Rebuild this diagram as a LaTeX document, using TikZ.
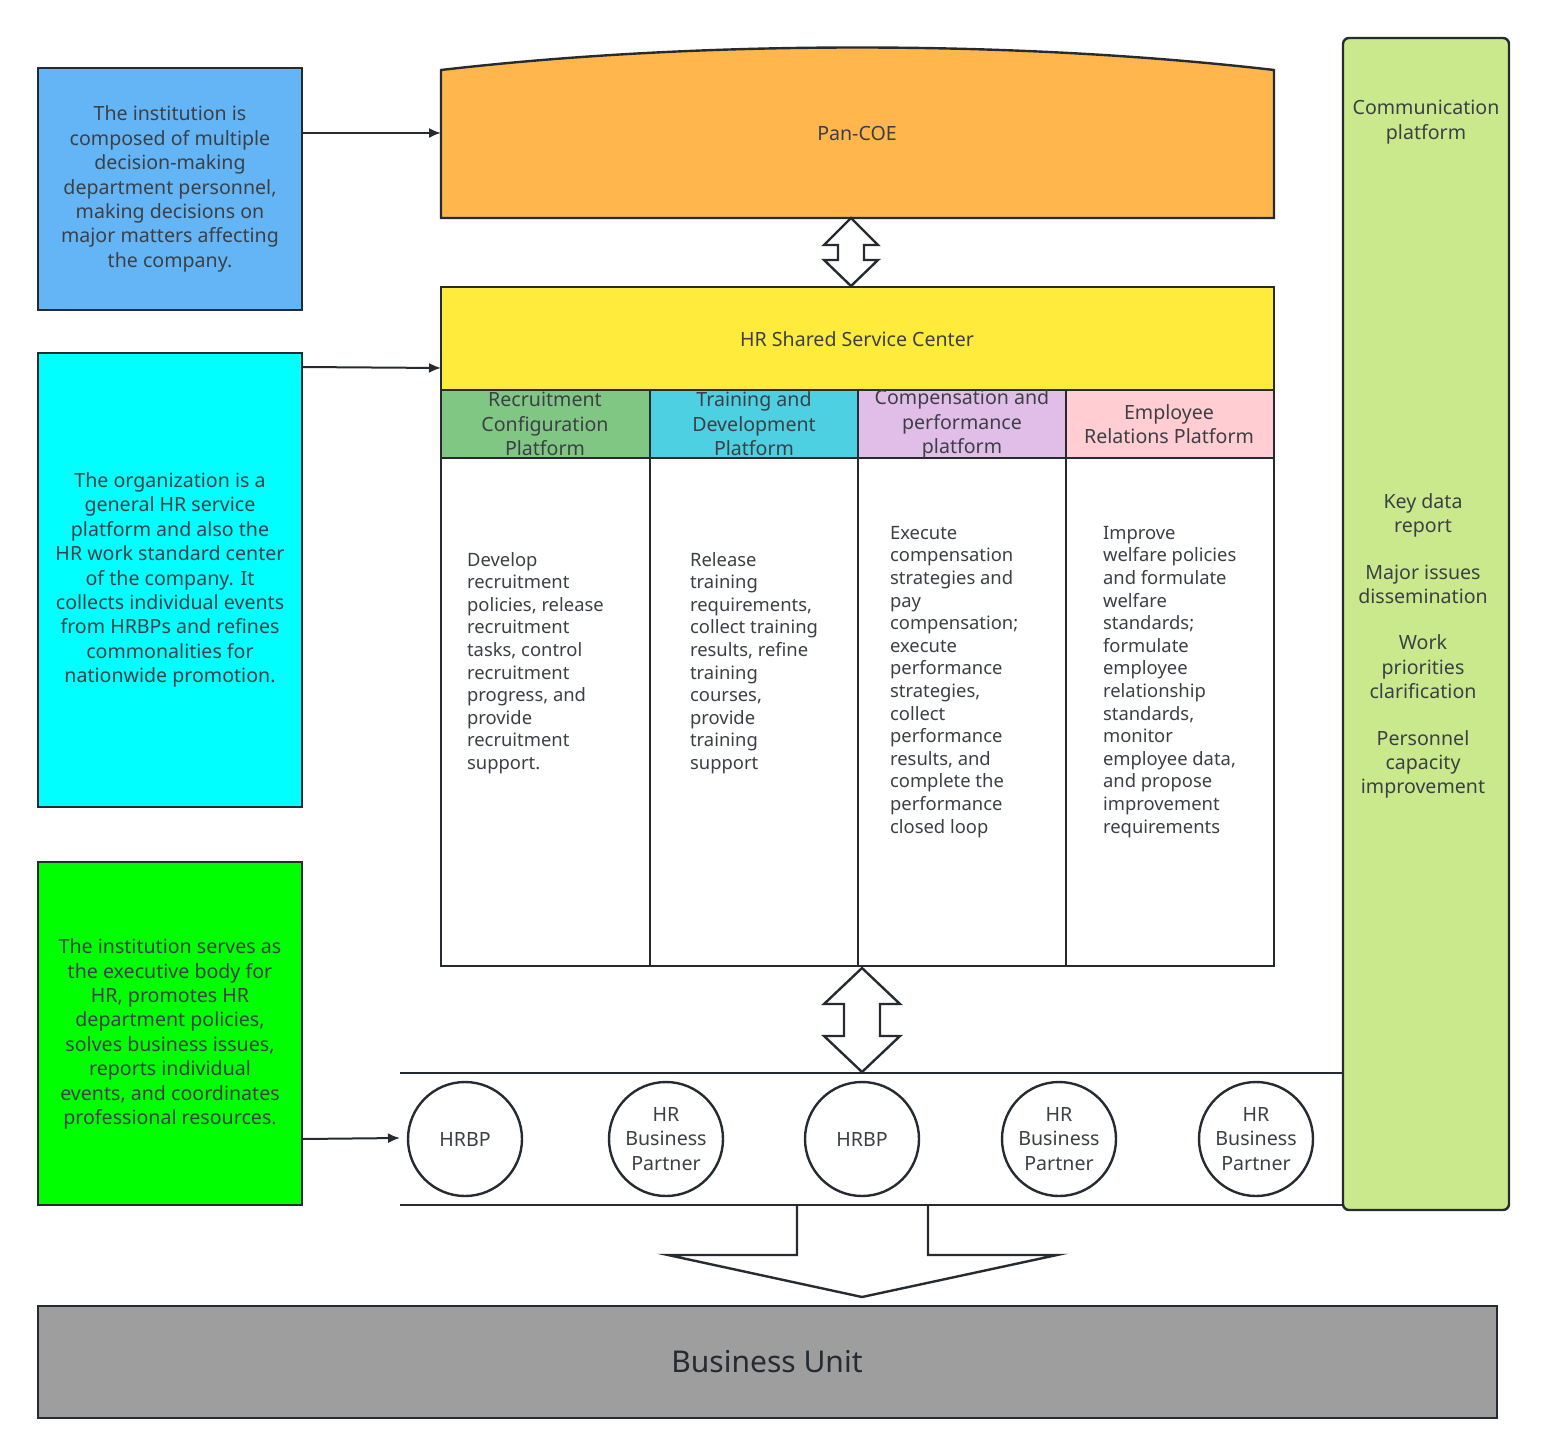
\documentclass[tikz,border=0pt]{standalone}
\usepackage{fontspec}
\setmainfont{Noto Sans}
\usetikzlibrary{arrows.meta}
\definecolor{cblue}{HTML}{64B5F6}
\definecolor{ccyan}{HTML}{00FFFF}
\definecolor{cgreen}{HTML}{00FF00}
\definecolor{corange}{HTML}{FFB74D}
\definecolor{cyel}{HTML}{FFEB3B}
\definecolor{h1}{HTML}{81C784}
\definecolor{h2}{HTML}{4DD0E1}
\definecolor{h3}{HTML}{E1BEE7}
\definecolor{h4}{HTML}{FFCDD2}
\definecolor{cgray}{HTML}{9E9E9E}
\definecolor{clime}{HTML}{C9E98C}
\definecolor{ln}{HTML}{262B31}
\begin{document}
\begin{tikzpicture}[x=0.5pt,y=-0.5pt,
 box/.style={draw=ln,line width=1.2pt},
 txt/.style={font=\fontsize{9.8}{12.2}\selectfont,text=ln!90,align=center},
 body/.style={font=\fontsize{9.2}{11.3}\selectfont,text=ln!90,align=left,anchor=north west},
 arr/.style={draw=ln,line width=1pt,-{Latex[length=6pt,width=5pt]}},
 circ/.style={circle,draw=ln,line width=1.2pt,fill=white,minimum size=57pt,inner sep=0pt,txt}]
\useasboundingbox (0,0) rectangle (1546,1455);
% left boxes
\draw[box,fill=cblue] (38,68) rectangle (302,310);
\node[txt] (t1) at (170,189) {The institution is\\composed of multiple\\decision-making\\department personnel,\\making decisions on\\major matters affecting\\the company.};
\draw[box,fill=ccyan] (38,353) rectangle (302,807);
\node[txt] (t2) at (170,580) {The organization is a\\general HR service\\platform and also the\\HR work standard center\\of the company. It\\collects individual events\\from HRBPs and refines\\commonalities for\\nationwide promotion.};
\draw[box,fill=cgreen] (38,862) rectangle (302,1205);
\node[txt] (t3) at (170,1034) {The institution serves as\\the executive body for\\HR, promotes HR\\department policies,\\solves business issues,\\reports individual\\events, and coordinates\\professional resources.};
% Pan-COE
\draw[box,fill=corange] (441,218) -- (441,70) .. controls (700,40) and (1015,40) .. (1274,70) -- (1274,218) -- cycle;
\node[txt] (pan) at (857,133) {Pan-COE};
% double arrow 1
\draw[box,fill=white] (851,218) -- (878,245) -- (864,245) -- (864,260) -- (878,260) -- (851,286) -- (824,260) -- (838,260) -- (838,245) -- (824,245) -- cycle;
% HR shared
\draw[box,fill=cyel] (441,287) rectangle (1274,390);
\node[txt] (hr) at (857,339) {HR Shared Service Center};
% columns
\foreach \a/\b/\c in {441/650/h1,650/858/h2,858/1066/h3,1066/1274/h4}{
 \draw[box,fill=\c] (\a,390) rectangle (\b,458);
 \draw[box,fill=white] (\a,458) rectangle (\b,966);}
\node[txt] (c1) at (545,424) {Recruitment\\Configuration\\Platform};
\node[txt] (c2) at (754,424) {Training and\\Development\\Platform};
\node[txt] (c3) at (962,424) {Compensation and\\performance\\platform};
\node[txt] (c4) at (1169,424) {Employee\\Relations Platform};
\node[body] (b1) at (460,545) {Develop\\recruitment\\policies, release\\recruitment\\tasks, control\\recruitment\\progress, and\\provide\\recruitment\\support.};
\node[body] (b2) at (683,545) {Release\\training\\requirements,\\collect training\\results, refine\\training\\courses,\\provide\\training\\support};
\node[body] (b3) at (883,519) {Execute\\compensation\\strategies and\\pay\\compensation;\\execute\\performance\\strategies,\\collect\\performance\\results, and\\complete the\\performance\\closed loop};
\node[body] (b4) at (1096,519) {Improve\\welfare policies\\and formulate\\welfare\\standards;\\formulate\\employee\\relationship\\standards,\\monitor\\employee data,\\and propose\\improvement\\requirements};
% double arrow 2
\draw[box,fill=white] (862,968) -- (900,1004) -- (880,1004) -- (880,1036) -- (900,1036) -- (862,1072) -- (824,1036) -- (844,1036) -- (844,1004) -- (824,1004) -- cycle;
% band
\draw[line width=1.2pt,draw=ln] (400,1073) -- (1345,1073);
\draw[line width=1.2pt,draw=ln] (400,1205) -- (1345,1205);
\node[circ] (p1) at (465,1139) {HRBP};
\node[circ,align=center] (p2) at (666,1139) {HR\\Business\\Partner};
\node[circ] (p3) at (862,1139) {HRBP};
\node[circ,align=center] (p4) at (1059,1139) {HR\\Business\\Partner};
\node[circ,align=center] (p5) at (1256,1139) {HR\\Business\\Partner};
% big down arrow
\draw[box,fill=white] (797,1206) -- (797,1255) -- (668,1255) -- (862,1297) -- (1057,1255) -- (928,1255) -- (928,1206);
% business unit
\draw[box,fill=cgray] (38,1306) rectangle (1497,1418);
\node[font=\fontsize{15}{18}\selectfont,text=ln] (bu) at (767,1362) {Business Unit};
% right
\draw[box,fill=clime,rounded corners=3pt] (1343,38) rectangle (1509,1210);
\node[txt] (cp) at (1426,122) {Communication\\platform};
\node[txt] (kd) at (1423,646) {Key data\\report\\[11pt]Major issues\\dissemination\\[11pt]Work\\priorities\\clarification\\[11pt]Personnel\\capacity\\improvement};
% arrows
\coordinate (a1) at (441,133); \coordinate (a2) at (441,368); \coordinate (a3) at (400,1138);
\coordinate (s1) at (302,133); \coordinate (s2) at (302,367); \coordinate (s3) at (302,1139);
\draw[arr] (s1) -- (a1);
\draw[arr] (s2) -- (a2);
\draw[arr] (s3) -- (a3);
\end{tikzpicture}
\end{document}
